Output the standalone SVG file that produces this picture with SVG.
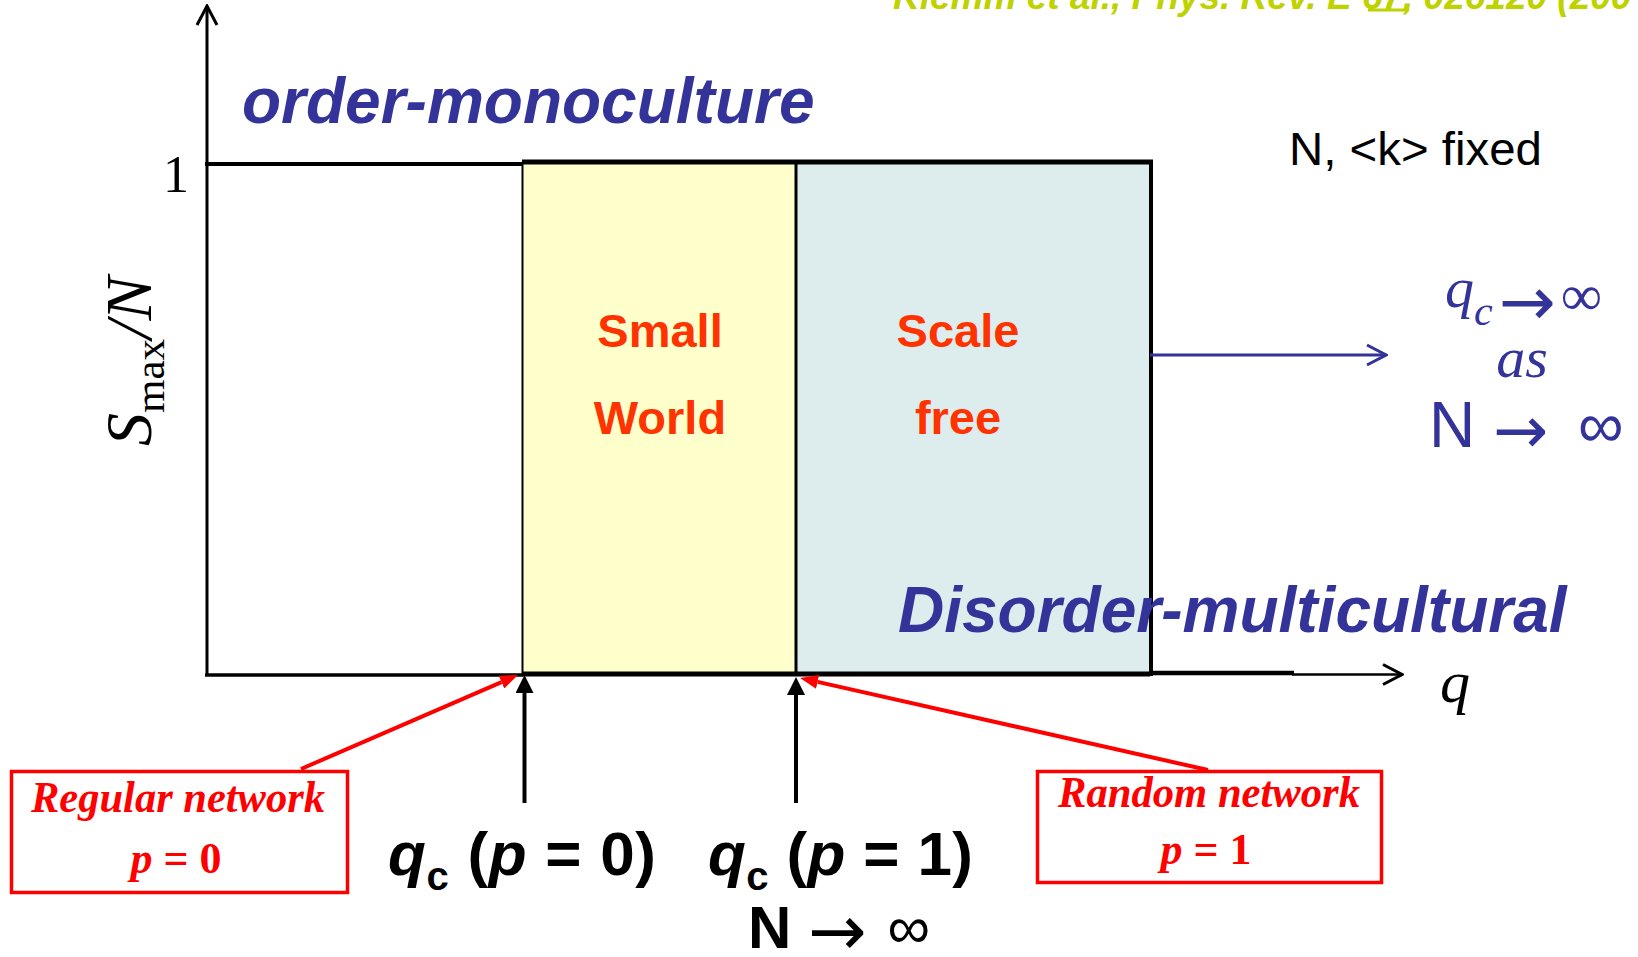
<svg xmlns="http://www.w3.org/2000/svg" width="1638" height="957" viewBox="0 0 1638 957">
<style>
.title{font-family:"Liberation Sans",Arial,sans-serif;font-weight:bold;font-style:italic;font-size:64px;fill:#333399}
.region{font-family:"Liberation Sans",Arial,sans-serif;font-weight:bold;font-size:47px;fill:#ff3300;text-anchor:middle}
.note{font-family:"Liberation Sans",Arial,sans-serif;font-size:47px;fill:#000}
.serif{font-family:"Liberation Serif","Times New Roman",serif}
.redlabel{font-family:"Liberation Serif","Times New Roman",serif;font-weight:bold;font-style:italic;font-size:44px;fill:#ff0000}
.qc{font-family:"Liberation Sans",Arial,sans-serif;font-weight:bold;font-size:62px;fill:#000}
.cite{font-family:"Liberation Sans",Arial,sans-serif;font-weight:bold;font-style:italic;font-size:37px;fill:#bed200}
.arrow{font-family:"DejaVu Sans",sans-serif;font-style:normal;font-weight:normal}
.blk{stroke:#000;fill:none}
</style>
<defs>
<marker id="openBlack" viewBox="0 0 22 24" refX="20" refY="12" markerWidth="22" markerHeight="24" markerUnits="userSpaceOnUse" orient="auto"><path d="M1,2 L20,12 L1,22" fill="none" stroke="#000" stroke-width="3"/></marker>
<marker id="openBlue" viewBox="0 0 22 24" refX="20" refY="12" markerWidth="22" markerHeight="24" markerUnits="userSpaceOnUse" orient="auto"><path d="M1,2 L20,12 L1,22" fill="none" stroke="#333399" stroke-width="3"/></marker>
<marker id="fillBlack" viewBox="0 0 18 18" refX="0" refY="9" markerWidth="18" markerHeight="18" markerUnits="userSpaceOnUse" orient="auto"><path d="M0,0 L18,9 L0,18 z" fill="#000"/></marker>
<marker id="fillRed" viewBox="0 0 18 14" refX="0" refY="7" markerWidth="18" markerHeight="14" markerUnits="userSpaceOnUse" orient="auto"><path d="M0,0 L18,7 L0,14 z" fill="#ff0000"/></marker>
</defs>

<!-- citation (cut at top edge) -->
<g id="citation">
<text class="cite" x="893" y="9">Klemm et al., Phys. Rev. E 67, 026120 (200</text>
<rect x="1368" y="8.5" width="41" height="3" fill="#bed200"/>
</g>

<!-- regions -->
<g id="region-small-world">
<rect x="522" y="162" width="274" height="512" fill="#ffffcc"/>
<text class="region" x="660" y="347">Small</text>
<text class="region" x="660" y="434">World</text>
</g>
<g id="region-scale-free">
<rect x="796" y="162" width="354" height="512" fill="#ddecec"/>
<text class="region" x="958" y="347">Scale</text>
<text class="region" x="958" y="434">free</text>
</g>

<!-- plot frame -->
<g id="frame">
<line class="blk" x1="205" y1="164" x2="523" y2="164" stroke-width="4"/>
<line class="blk" x1="205" y1="675" x2="523" y2="675" stroke-width="3.5"/>
<line class="blk" x1="522" y1="162" x2="1153" y2="162" stroke-width="5"/>
<line class="blk" x1="522" y1="674" x2="1150" y2="674" stroke-width="5"/>
<line class="blk" x1="522.5" y1="162" x2="522.5" y2="674" stroke-width="2"/>
<line class="blk" x1="796" y1="162" x2="796" y2="674" stroke-width="3"/>
<line class="blk" x1="1151" y1="160" x2="1151" y2="676" stroke-width="4"/>
</g>

<!-- axes and labels -->
<g id="axes">
<line class="blk" x1="207" y1="676" x2="207" y2="6" stroke-width="3" marker-end="url(#openBlack)"/>
<line class="blk" x1="1150" y1="673" x2="1294" y2="673" stroke-width="4.5"/>
<line class="blk" x1="1292" y1="674.5" x2="1402" y2="674.5" stroke-width="2.5" marker-end="url(#openBlack)"/>
<text class="serif" x="163" y="192" font-size="52">1</text>
<text class="serif" transform="translate(151,446) rotate(-90)" font-size="66" font-style="italic">S<tspan font-style="normal" font-size="43" dy="13">max</tspan><tspan dy="-13">/N</tspan></text>
<text class="serif" x="1440" y="702" font-size="60" font-style="italic">q</text>
</g>

<g id="label-order">
<text class="title" x="242" y="123">order-monoculture</text>
</g>
<g id="label-disorder">
<text class="title" x="898" y="632">Disorder-multicultural</text>
</g>
<g id="label-fixed">
<text class="note" x="1289" y="165" textLength="253" lengthAdjust="spacingAndGlyphs">N, &lt;k&gt; fixed</text>
</g>

<g id="label-limit">
<text class="serif" x="1445" y="307" font-size="58" font-style="italic" fill="#333399">q<tspan font-size="42" dy="18">c</tspan><tspan class="arrow" font-size="68" dx="6">→</tspan><tspan dy="-10" dx="5" font-style="normal">∞</tspan></text>
<text class="serif" x="1522" y="377" font-size="58" font-style="italic" fill="#333399" text-anchor="middle">as</text>
<text x="1429" y="447" font-family="Liberation Sans, Arial, sans-serif" font-size="64" fill="#333399">N <tspan class="arrow" font-size="66" dy="6">→</tspan><tspan dy="-6" dx="12"> ∞</tspan></text>
</g>

<g id="box-regular">
<rect x="11.5" y="771.5" width="336" height="121" fill="none" stroke="#ff0000" stroke-width="3.5"/>
<text class="redlabel" x="31" y="812" textLength="294" lengthAdjust="spacingAndGlyphs">Regular network</text>
<text class="redlabel" x="176" y="873" text-anchor="middle">p <tspan font-style="normal">= 0</tspan></text>
</g>
<g id="box-random">
<rect x="1037.5" y="771.5" width="344" height="111" fill="none" stroke="#ff0000" stroke-width="3.5"/>
<text class="redlabel" x="1058" y="807" textLength="302" lengthAdjust="spacingAndGlyphs">Random network</text>
<text class="redlabel" x="1206" y="864" text-anchor="middle">p <tspan font-style="normal">= 1</tspan></text>
</g>

<g id="label-qc0">
<text class="qc" x="388" y="875" textLength="268" lengthAdjust="spacing"><tspan font-style="italic">q</tspan><tspan font-size="40" dy="15">c</tspan><tspan dy="-15"> (</tspan><tspan font-style="italic">p</tspan> = 0)</text>
</g>
<g id="label-qc1">
<text class="qc" x="708" y="875" textLength="265" lengthAdjust="spacing"><tspan font-style="italic">q</tspan><tspan font-size="40" dy="15">c</tspan><tspan dy="-15"> (</tspan><tspan font-style="italic">p</tspan> = 1)</text>
<text x="748" y="948" font-family="Liberation Sans, Arial, sans-serif" font-size="60" fill="#000"><tspan font-weight="bold">N</tspan> <tspan class="arrow" font-size="70" dy="7">→</tspan><tspan dy="-7" dx="4"> ∞</tspan></text>
</g>

<!-- connectors -->
<g id="connectors">
<line x1="1150" y1="355" x2="1386" y2="355" stroke="#333399" stroke-width="3" marker-end="url(#openBlue)"/>
<line x1="524.5" y1="803" x2="524.5" y2="693" stroke="#000" stroke-width="4" marker-end="url(#fillBlack)"/>
<line x1="796" y1="803" x2="796" y2="695" stroke="#000" stroke-width="4" marker-end="url(#fillBlack)"/>
<line x1="301" y1="769" x2="501.5" y2="682.1" stroke="#ff0000" stroke-width="4" marker-end="url(#fillRed)"/>
<line x1="1208" y1="770" x2="817.6" y2="681.9" stroke="#ff0000" stroke-width="4" marker-end="url(#fillRed)"/>
</g>
</svg>
